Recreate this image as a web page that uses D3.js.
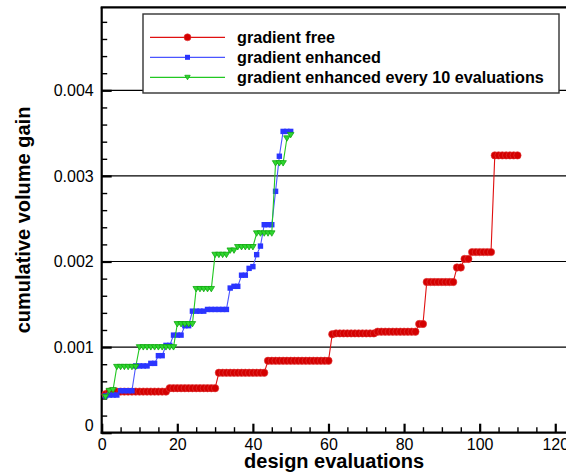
<!DOCTYPE html>
<html>
<head>
<meta charset="utf-8">
<script src="https://cdn.jsdelivr.net/npm/d3@7"></script>
<style>
  body { margin: 0; background: #fff; }
  svg { display: block; }
  text { font-family: "Liberation Sans", Arial, Helvetica, sans-serif; fill: #000; }
</style>
</head>
<body>
<svg id="chart" width="566" height="473"></svg>
<script>
// Cumulative volume gain per design evaluation (evaluations are numbered from 1)
const gradientFree = [
  0.00045,
  0.00048, 0.00048, 0.00048, 0.00048, 0.00048, 0.00048, 0.00048, 0.00048,
  0.00048, 0.00048, 0.00048, 0.00048, 0.00048, 0.00048, 0.00048, 0.00048,
  0.00052, 0.00052, 0.00052, 0.00052, 0.00052, 0.00052, 0.00052, 0.00052,
  0.00052, 0.00052, 0.00052, 0.00052, 0.00052,
  0.00070, 0.00070, 0.00070, 0.00070, 0.00070, 0.00070, 0.00070, 0.00070,
  0.00070, 0.00070, 0.00070, 0.00070, 0.00070,
  0.00084, 0.00084, 0.00084, 0.00084, 0.00084, 0.00084, 0.00084, 0.00084,
  0.00084, 0.00084, 0.00084, 0.00084, 0.00084, 0.00084, 0.00084, 0.00084, 0.00084,
  0.00115, 0.00116, 0.00116, 0.00116, 0.00116, 0.00116, 0.00116, 0.00116,
  0.00116, 0.00116, 0.00116, 0.00116,
  0.00118, 0.00118, 0.00118, 0.00118, 0.00118, 0.00118, 0.00118, 0.00118,
  0.00118, 0.00118, 0.00118,
  0.00127, 0.00127,
  0.00176, 0.00176, 0.00176, 0.00176, 0.00176, 0.00176, 0.00176, 0.00176,
  0.00193, 0.00193,
  0.00203, 0.00203,
  0.00211, 0.00211, 0.00211, 0.00211, 0.00211, 0.00211,
  0.00324, 0.00324, 0.00324, 0.00324, 0.00324, 0.00324, 0.00324
];

const gradientEnhanced = [
  0.00043, 0.00044, 0.00044, 0.00044,
  0.00049, 0.00049, 0.00049, 0.00049,
  0.00078, 0.00078, 0.00078, 0.00078,
  0.00081, 0.00081,
  0.00090, 0.00090,
  0.00102, 0.00102,
  0.00114, 0.00114, 0.00114,
  0.00125, 0.00125,
  0.00142, 0.00142, 0.00142, 0.00142,
  0.00144, 0.00144, 0.00144, 0.00144, 0.00144, 0.00144,
  0.00169,
  0.00171, 0.00171,
  0.00184, 0.00184,
  0.00192,
  0.00194,
  0.00208,
  0.00218,
  0.00243, 0.00243, 0.00243,
  0.00282,
  0.00323,
  0.00352, 0.00352, 0.00352
];

const gradientEvery10 = [
  0.00042, 0.00049, 0.00050,
  0.00077, 0.00077, 0.00077, 0.00077, 0.00077, 0.00077,
  0.00100, 0.00100, 0.00100, 0.00100, 0.00100, 0.00100, 0.00100, 0.00100, 0.00100, 0.00100,
  0.00127, 0.00127, 0.00127, 0.00127, 0.00127,
  0.00168, 0.00168, 0.00168, 0.00168, 0.00168,
  0.00208, 0.00208, 0.00208, 0.00208,
  0.00213, 0.00213,
  0.00217, 0.00217, 0.00217, 0.00217, 0.00217,
  0.00233, 0.00233, 0.00233, 0.00233, 0.00233,
  0.00315, 0.00315, 0.00315,
  0.00344,
  0.00348
];

const seriesNames = ["gradient free", "gradient enhanced", "gradient enhanced every 10 evaluations"];
const xTicks = [0, 20, 40, 60, 80, 100, 120];
const xTickLabels = ["0", "20", "40", "60", "80", "100", "120"];
const yTicks = [0, 0.001, 0.002, 0.003, 0.004];
const yTickLabels = ["0", "0.001", "0.002", "0.003", "0.004"];
const xTitle = "design evaluations";
const yTitle = "cumulative volume gain";

const svg = d3.select("#chart");
const plotLeft = 101.7, plotBottom = 432.7, plotTop = 7.3, plotRight = 566.6;

const x = d3.scaleLinear().domain([0, 123]).range([plotLeft, plotRight]);
const y = d3.scaleLinear().domain([0, 0.00497]).range([plotBottom, plotTop]);

// horizontal grid lines at the major y ticks
svg.append("g").selectAll("line")
  .data(yTicks.filter(v => v > 0))
  .join("line")
  .attr("x1", plotLeft).attr("x2", plotRight)
  .attr("y1", d => y(d)).attr("y2", d => y(d))
  .attr("stroke", "#000").attr("stroke-width", 1.2);

// minor ticks
const yMinor = d3.range(1, 25).map(i => i * 0.0002).filter(v => Math.abs(v / 0.001 - Math.round(v / 0.001)) > 1e-6);
const xMinor = d3.range(1, 25).map(i => i * 5).filter(v => v % 20 !== 0);

const yMinorAxis = d3.axisLeft(y).tickValues(yMinor).tickSize(-5.5).tickFormat("");
const xMinorAxis = d3.axisBottom(x).tickValues(xMinor).tickSize(-5.5).tickFormat("");
svg.append("g").attr("transform", `translate(${plotLeft},0)`).call(yMinorAxis)
  .call(g => g.select(".domain").remove())
  .selectAll("line").attr("stroke", "#000").attr("stroke-width", 1.4);
svg.append("g").attr("transform", `translate(0,${plotBottom})`).call(xMinorAxis)
  .call(g => g.select(".domain").remove())
  .selectAll("line").attr("stroke", "#000").attr("stroke-width", 1.4);

// major axes
const yAxis = d3.axisLeft(y).tickValues(yTicks).tickSize(-10).tickPadding(8)
  .tickFormat((d, i) => yTickLabels[i]);
const xAxis = d3.axisBottom(x).tickValues(xTicks).tickSize(-9).tickPadding(6)
  .tickFormat((d, i) => xTickLabels[i]);

const gy = svg.append("g").attr("transform", `translate(${plotLeft},0)`).call(yAxis);
gy.select(".domain").remove();
gy.selectAll("line").attr("stroke", "#000").attr("stroke-width", 2.2);
gy.selectAll("text").attr("font-size", 16).attr("font-family", "Liberation Sans, Arial, sans-serif").attr("fill", "#000");
gy.selectAll(".tick").filter(d => d === 0).select("text").attr("dy", "-0.12em");

const gx = svg.append("g").attr("transform", `translate(0,${plotBottom})`).call(xAxis);
gx.select(".domain").remove();
gx.selectAll("line").attr("stroke", "#000").attr("stroke-width", 2.2);
gx.selectAll("text").attr("font-size", 16).attr("font-family", "Liberation Sans, Arial, sans-serif").attr("fill", "#000");

// frame: left, bottom and top edges
svg.append("line").attr("x1", plotLeft).attr("x2", plotLeft).attr("y1", plotTop).attr("y2", plotBottom + 1)
  .attr("stroke", "#000").attr("stroke-width", 2.2);
svg.append("line").attr("x1", plotLeft - 1).attr("x2", plotRight).attr("y1", plotBottom).attr("y2", plotBottom)
  .attr("stroke", "#000").attr("stroke-width", 2.2);
svg.append("line").attr("x1", plotLeft - 1).attr("x2", plotRight).attr("y1", plotTop).attr("y2", plotTop)
  .attr("stroke", "#000").attr("stroke-width", 2.2);

// axis titles
svg.append("text").attr("x", (plotLeft + plotRight) / 2).attr("y", 467.5)
  .attr("text-anchor", "middle").attr("font-size", 20).attr("font-weight", "bold").text(xTitle);
svg.append("text").attr("transform", `translate(30,${(plotTop + plotBottom) / 2}) rotate(-90)`)
  .attr("text-anchor", "middle").attr("font-size", 20).attr("font-weight", "bold").text(yTitle);

// series
const styles = [
  { data: gradientFree, line: "#e01010", fill: "#d40000", marker: "circle" },
  { data: gradientEnhanced, line: "#4a55ff", fill: "#2b35ff", marker: "square" },
  { data: gradientEvery10, line: "#22c822", fill: "#2fd62f", marker: "triangle" }
];

const lineGen = d3.line().x((d, i) => x(i + 1)).y(d => y(d));
const triDown = s => `M${-s * 0.6},${-s * 0.45}L${s * 0.6},${-s * 0.45}L0,${s * 0.55}Z`;

function drawMarker(sel, style, size) {
  if (style.marker === "circle") {
    sel.append("circle").attr("r", size).attr("fill", style.fill)
      .attr("stroke", "#e03a3a").attr("stroke-width", 0.6);
  } else if (style.marker === "square") {
    sel.append("rect").attr("x", -size / 2).attr("y", -size / 2)
      .attr("width", size).attr("height", size).attr("fill", style.fill);
  } else {
    sel.append("path").attr("d", triDown(size)).attr("fill", style.fill)
      .attr("stroke", "#12a812").attr("stroke-width", 0.8);
  }
}

const markerSize = { circle: 3.7, square: 5.4, triangle: 5.4 };

styles.forEach(st => {
  const g = svg.append("g");
  g.append("path").datum(st.data).attr("d", lineGen)
    .attr("fill", "none").attr("stroke", st.line).attr("stroke-width", 1.1);
  g.selectAll("g.m").data(st.data).join("g").attr("class", "m")
    .attr("transform", (d, i) => `translate(${x(i + 1)},${y(d)})`)
    .each(function () { drawMarker(d3.select(this), st, markerSize[st.marker]); });
});

// legend
const legend = svg.append("g");
legend.append("rect").attr("x", 143).attr("y", 14).attr("width", 416).attr("height", 79)
  .attr("fill", "#fff").attr("stroke", "#333").attr("stroke-width", 1.4);
const legendSize = { circle: 3.5, square: 5, triangle: 4.5 };
styles.forEach((st, i) => {
  const cy = 37.3 + i * 20;
  legend.append("line").attr("x1", 150).attr("x2", 225).attr("y1", cy).attr("y2", cy)
    .attr("stroke", st.line).attr("stroke-width", 1.2);
  const m = legend.append("g").attr("transform", `translate(187.5,${cy})`);
  drawMarker(m, st, legendSize[st.marker]);
  legend.append("text").attr("x", 237).attr("y", cy).attr("dy", "0.35em")
    .attr("font-size", 16.2).attr("font-weight", "bold").text(seriesNames[i]);
});
</script>
</body>
</html>
